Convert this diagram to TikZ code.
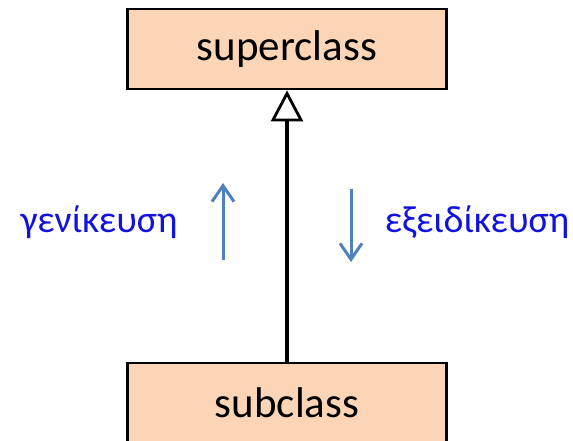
\documentclass[tikz,border=0pt]{standalone}
\usepackage{fontspec}
\setmainfont{Carlito}
\usetikzlibrary{arrows.meta}
\definecolor{boxfill}{HTML}{FBD5B5}
\definecolor{greektext}{HTML}{1212E0}
\definecolor{dirarrow}{HTML}{4F81BD}

\begin{document}
\begin{tikzpicture}[x=1pt,y=-1pt,
  classbox/.style={draw, line width=2.8pt, fill=boxfill, minimum width=319pt, minimum height=80pt, font=\fontsize{43}{50}\selectfont},
  label/.style={text=greektext, font=\fontsize{38}{44}\selectfont},
  dir/.style={draw=dirarrow, line width=3pt, -{Straight Barb[length=16pt,width=22pt,line width=3pt]}}]
\useasboundingbox (0,0) rectangle (573,440);

\node[classbox] (super) at (287,49) {superclass};
\node[classbox] (sub) at (287,403) {subclass};

\node[label] (gen) at (99,222) {γενίκευση};
\node[label] (spec) at (477,222) {εξειδίκευση};

\coordinate (up1) at (223,260);
\coordinate (up2) at (223,183);
\coordinate (down1) at (351,189);
\coordinate (down2) at (351,262);

\draw[-{Triangle[open,length=31pt,width=32pt,line width=2.8pt]}, line width=3.2pt] (sub) -- (super);
\draw[dir] (up1) -- (up2);
\draw[dir] (down1) -- (down2);
\end{tikzpicture}
\end{document}
